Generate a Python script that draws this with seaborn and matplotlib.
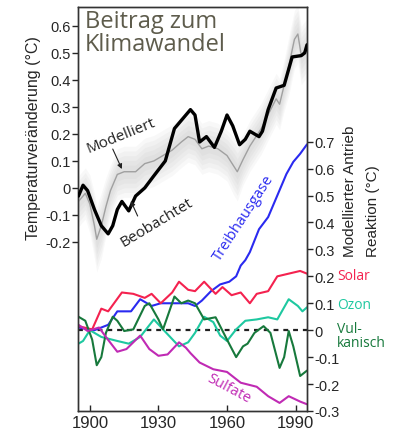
import numpy as np
import pandas as pd
import matplotlib
matplotlib.use("Agg")
import matplotlib.pyplot as plt
import matplotlib.transforms as mtransforms
import seaborn as sns

# ---- observed global temperature change (deg C) ----
obs_years = [1895, 1897, 1899, 1902, 1905, 1908, 1910, 1912, 1914, 1917, 1920, 1924,
             1928, 1933, 1937, 1940, 1944, 1946, 1948, 1951, 1954.5, 1957.5, 1960,
             1962.5, 1965.5, 1968, 1970, 1974, 1975.5, 1978, 1981.5, 1985, 1988.5,
             1992.5, 1994, 1995]
obs_temp = [-0.03, 0.01, -0.01, -0.08, -0.14, -0.17, -0.14, -0.08, -0.05, -0.085, -0.03,
            0.0, 0.045, 0.10, 0.22, 0.25, 0.29, 0.27, 0.17, 0.19, 0.15, 0.21, 0.27,
            0.23, 0.16, 0.18, 0.21, 0.19, 0.21, 0.29, 0.37, 0.38, 0.485, 0.49, 0.50, 0.53]

# ---- modelled temperature change: ensemble mean and spread ----
mod_years = [1895, 1898, 1900, 1902, 1903, 1905, 1907, 1909, 1912, 1915, 1920, 1924,
             1928, 1932, 1936, 1940, 1943, 1946, 1949, 1952, 1956, 1960, 1963, 1964.5,
             1967, 1970, 1975, 1978.5, 1981.5, 1983, 1985, 1987, 1989.5, 1991, 1992.5,
             1995]
mod_temp = [-0.05, -0.02, -0.06, -0.14, -0.19, -0.14, -0.07, -0.01, 0.05, 0.06, 0.06,
            0.09, 0.10, 0.12, 0.14, 0.17, 0.19, 0.18, 0.145, 0.155, 0.145, 0.12, 0.08,
            0.06, 0.105, 0.155, 0.22, 0.28, 0.33, 0.31, 0.38, 0.45, 0.55, 0.57, 0.49,
            0.52]
mod_spread = [0.07, 0.07, 0.08, 0.09, 0.09, 0.09, 0.08, 0.07, 0.07, 0.07, 0.07, 0.07,
              0.07, 0.07, 0.07, 0.07, 0.07, 0.07, 0.07, 0.07, 0.07, 0.07, 0.08, 0.08,
              0.07, 0.07, 0.07, 0.07, 0.07, 0.07, 0.07, 0.08, 0.08, 0.08, 0.08, 0.08]

# ---- modelled response to individual forcings (deg C) ----
ghg_years = [1895, 1902, 1908, 1912, 1918, 1922, 1927, 1931, 1937, 1943, 1946, 1949,
             1953, 1957, 1961, 1964, 1966, 1968, 1970, 1974, 1978, 1982, 1986, 1989,
             1992, 1995]
ghg_vals = [0.01, 0.0, 0.02, 0.07, 0.07, 0.115, 0.09, 0.10, 0.10, 0.10, 0.09, 0.11,
            0.145, 0.17, 0.18, 0.20, 0.24, 0.26, 0.29, 0.375, 0.42, 0.50, 0.58, 0.625,
            0.655, 0.69]

solar_years = [1895, 1901, 1905, 1908, 1914, 1919, 1924, 1927, 1931, 1936, 1939, 1943,
               1946, 1950, 1955, 1958, 1962, 1966, 1970, 1973, 1978, 1982, 1987, 1992,
               1995]
solar_vals = [0.015, 0.003, 0.08, 0.07, 0.14, 0.135, 0.12, 0.135, 0.10, 0.14, 0.18,
              0.15, 0.145, 0.18, 0.135, 0.16, 0.13, 0.14, 0.10, 0.135, 0.145, 0.20,
              0.21, 0.22, 0.21]

ozone_years = [1895, 1897, 1900, 1905, 1912, 1917, 1922, 1928, 1932, 1939, 1943, 1946,
               1950, 1954, 1957, 1960, 1964, 1968, 1973, 1978, 1982, 1987, 1991, 1993,
               1995]
ozone_vals = [-0.05, -0.04, 0.0, -0.025, -0.04, -0.05, -0.025, 0.04, 0.003, -0.06,
              -0.045, -0.01, 0.05, 0.03, -0.02, -0.04, 0.003, 0.035, 0.04, 0.048, 0.04,
              0.115, 0.09, 0.07, 0.085]

volc_years = [1895, 1898, 1901, 1903, 1905, 1907, 1910, 1912, 1915, 1919, 1924, 1926,
              1930, 1932, 1937, 1940, 1943, 1946, 1950, 1955, 1957, 1960, 1964, 1967,
              1969, 1972, 1976, 1979, 1983, 1985, 1987, 1989, 1992, 1995]
volc_vals = [0.05, 0.035, -0.035, -0.13, -0.10, -0.01, 0.05, 0.035, -0.003, 0.003,
             0.09, 0.10, 0.04, 0.003, 0.125, 0.10, 0.11, 0.10, 0.04, 0.048, 0.015,
             -0.035, -0.10, -0.06, -0.05, -0.01, 0.015, -0.01, -0.14, -0.10, -0.003,
             -0.06, -0.17, -0.15]

sulf_years = [1895, 1899, 1904, 1907, 1912, 1916, 1922, 1926, 1930, 1934, 1939, 1942,
              1944, 1948, 1954, 1960, 1966, 1973, 1978, 1983, 1987, 1992, 1995]
sulf_vals = [0.02, -0.003, 0.01, -0.025, -0.08, -0.07, -0.02, -0.07, -0.095, -0.09,
             -0.045, -0.065, -0.085, -0.12, -0.145, -0.155, -0.195, -0.21, -0.245,
             -0.27, -0.245, -0.265, -0.275]

temp_ticks = [-0.2, -0.1, 0, 0.1, 0.2, 0.3, 0.4, 0.5, 0.6]
forc_ticks = [-0.3, -0.2, -0.1, 0, 0.1, 0.2, 0.3, 0.4, 0.5, 0.6, 0.7]
year_ticks = [1900, 1930, 1960, 1990]

C_GHG = "#2a2af0"
C_SOLAR = "#f4224f"
C_OZONE = "#1ec8a0"
C_VOLC = "#17793c"
C_SULF = "#c02ab4"

sns.set_style("white")
plt.rcParams["font.family"] = ["Liberation Sans", "DejaVu Sans"]
plt.rcParams["axes.unicode_minus"] = False
plt.rcParams["lines.solid_joinstyle"] = "round"
plt.rcParams["lines.solid_capstyle"] = "round"

W, H = 394, 435
fig = plt.figure(figsize=(W / 100, H / 100), dpi=100)
ax = fig.add_axes([78 / W, 1 - 412 / H, (307 - 78) / W, (412 - 8) / H])
axT = ax.twinx()

# ---------------- forcing panel (right axis) ----------------
series = [
    (ghg_years, ghg_vals, C_GHG),
    (solar_years, solar_vals, C_SOLAR),
    (ozone_years, ozone_vals, C_OZONE),
    (volc_years, volc_vals, C_VOLC),
    (sulf_years, sulf_vals, C_SULF),
]
for yrs, vals, col in series:
    df = pd.DataFrame({"year": yrs, "val": vals})
    sns.lineplot(data=df, x="year", y="val", ax=ax, color=col, lw=1.5)
ax.axhline(0, color="#222222", lw=1.6, ls=(0, (2.2, 2.2)), zorder=1)

ax.set_xlim(1894.8, 1995)
ax.set_ylim(-0.3, 1.2)
ax.yaxis.tick_right()
ax.set_yticks(forc_ticks)
ax.set_yticklabels(["0" if t == 0 else f"{t:.1f}" for t in forc_ticks])
ax.set_xticks(year_ticks)
ax.set_xticklabels([str(y) for y in year_ticks])
ax.tick_params(axis="y", direction="out", length=4, width=1, labelsize=10.5, pad=1,
               right=True, left=False, labelright=True, labelleft=False)
ax.tick_params(axis="x", direction="in", length=4, width=1, labelsize=12, pad=3,
               bottom=True)
ax.set_xlabel("")
ax.set_ylabel("")

# ---------------- temperature panel (left axis) ----------------
mod_t = np.array(mod_temp)
mod_s = np.array(mod_spread)
for f in [1.35, 1.1, 0.85, 0.6, 0.35]:
    axT.fill_between(mod_years, mod_t - f * mod_s, mod_t + f * mod_s,
                     color="#8a8a8a", alpha=0.055, lw=0, zorder=1)
df_mod = pd.DataFrame({"year": mod_years, "temp": mod_temp})
sns.lineplot(data=df_mod, x="year", y="temp", ax=axT, color="#a0a0a0", lw=1.0, zorder=2)
df_obs = pd.DataFrame({"year": obs_years, "temp": obs_temp})
sns.lineplot(data=df_obs, x="year", y="temp", ax=axT, color="black", lw=2.4, zorder=3)

axT.set_ylim(-0.826, 0.67)
axT.yaxis.tick_left()
axT.set_yticks(temp_ticks)
axT.set_yticklabels(["0" if t == 0 else f"{t:.1f}" for t in temp_ticks])
axT.tick_params(axis="y", direction="out", length=4, width=1, labelsize=10.5, pad=1,
                left=True, right=False, labelleft=True, labelright=False)
axT.set_xlabel("")
axT.set_ylabel("")

for a in (ax, axT):
    for s in a.spines.values():
        s.set_color("#333333")
        s.set_linewidth(1.0)

# ---------------- annotations ----------------
ann_font = ["Open Sans", "DejaVu Sans"]
axT.text(1913.5, 0.196, "Modelliert", rotation=22, ha="center", va="center",
         fontsize=11, family=ann_font, color="#222222")
axT.annotate("", xy=(1914.0, 0.07), xytext=(1910.0, 0.144),
             arrowprops=dict(arrowstyle="-|>", color="#222222", lw=0.8,
                             mutation_scale=7, shrinkA=0, shrinkB=0))
axT.text(1929.3, -0.126, "Beobachtet", rotation=31, ha="center", va="center",
         fontsize=11, family=ann_font, color="#222222")
axT.annotate("", xy=(1917.9, -0.048), xytext=(1920.9, -0.104),
             arrowprops=dict(arrowstyle="-|>", color="#222222", lw=0.8,
                             mutation_scale=7, shrinkA=0, shrinkB=0))

ax.text(1967.3, 0.42, "Treibhausgase", rotation=57, ha="center", va="center",
        fontsize=10.5, family=ann_font, color=C_GHG)
ax.text(1960.7, -0.216, "Sulfate", rotation=-28, ha="center", va="center",
        fontsize=10.5, family=ann_font, color=C_SULF)

blend = mtransforms.blended_transform_factory(ax.transAxes, ax.transData)
xr = 1 + (337 - 307) / 229
ax.text(xr, 0.204, "Solar", transform=blend, ha="left", va="center",
        fontsize=10, family=ann_font, color=C_SOLAR)
ax.text(xr, 0.097, "Ozon", transform=blend, ha="left", va="center",
        fontsize=10, family=ann_font, color=C_OZONE)
ax.text(xr, -0.02, "Vul-\nkanisch", transform=blend, ha="left", va="center",
        fontsize=10, family=ann_font, color=C_VOLC, linespacing=0.95)

# ---------------- titles and axis labels ----------------
fig.text(85 / W, 1 - 10 / H, "Beitrag zum\nKlimawandel", ha="left", va="top",
         fontsize=17, family=ann_font, color="#5e5c4c", linespacing=0.92)
fig.text(34 / W, 1 - 138 / H, "Temperaturveränderung (°C)", rotation=90,
         ha="center", va="center", fontsize=11.5)
fig.text(349.5 / W, 1 - 257 / H, "Modellierter Antrieb", rotation=90,
         ha="center", va="bottom", fontsize=11)
fig.text(373.5 / W, 1 - 257 / H, "Reaktion (°C)", rotation=90,
         ha="center", va="bottom", fontsize=11)

fig.savefig("out.png", dpi=100)
